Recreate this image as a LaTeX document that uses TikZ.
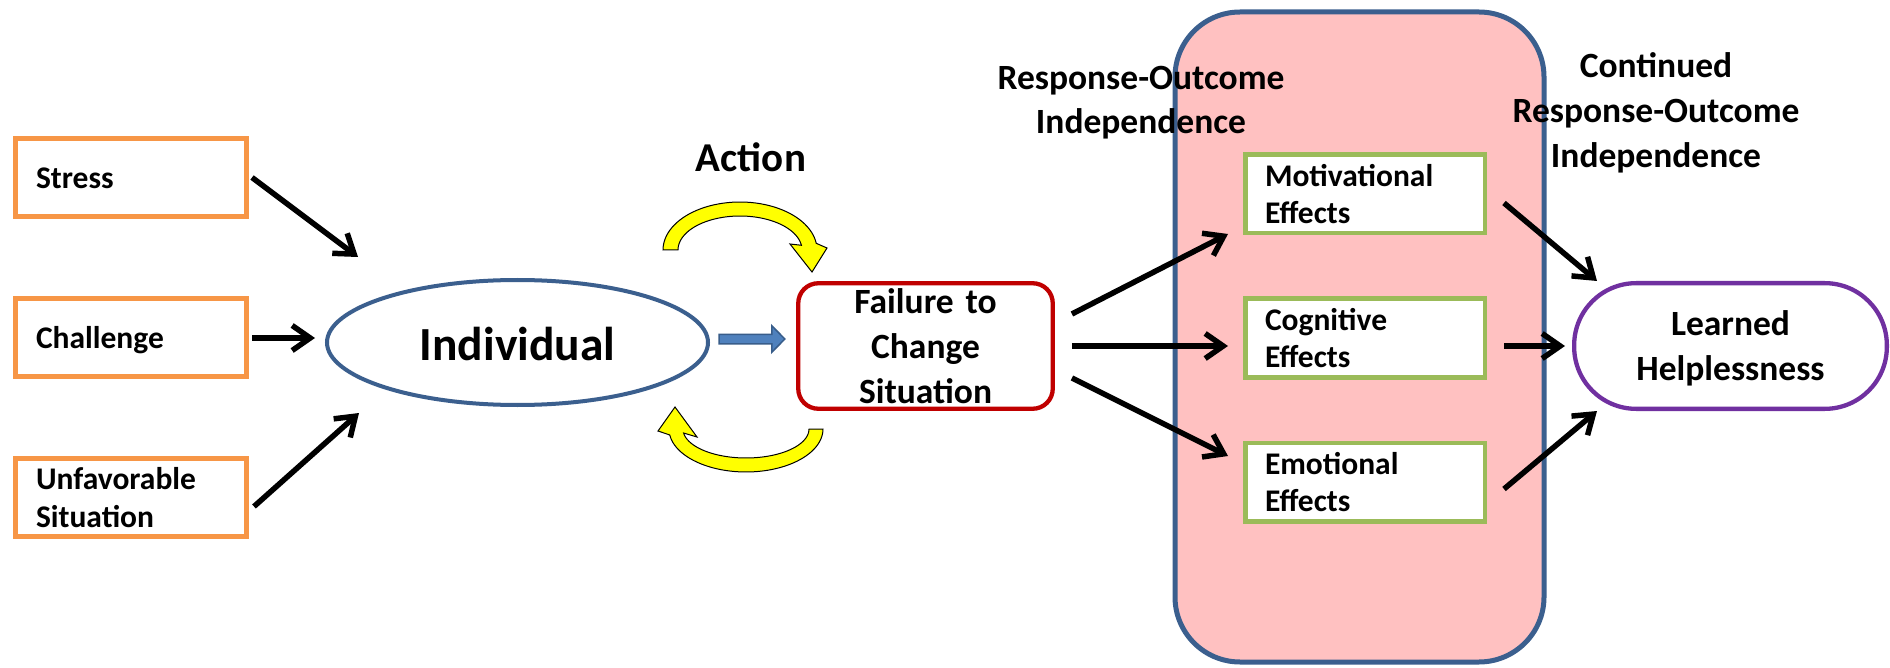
\documentclass[tikz,border=0pt]{standalone}
\usepackage{fontspec}
\setmainfont{Carlito}
\usetikzlibrary{arrows.meta,calc,shapes.geometric}
\definecolor{orangeC}{HTML}{F79646}
\definecolor{greenC}{HTML}{9BBB59}
\definecolor{redC}{HTML}{C00000}
\definecolor{purpleC}{HTML}{7030A0}
\definecolor{blueC}{HTML}{3B5F8E}
\definecolor{blueFill}{HTML}{4F81BD}
\definecolor{blueLine}{HTML}{385D8A}
\definecolor{pinkC}{HTML}{FFC1C1}
\definecolor{yellowC}{HTML}{FFFF00}
\newcommand\stA{\rule{0pt}{22pt}}
\newcommand\stB{\rule{0pt}{24.5pt}}
\newcommand\stC{\rule{0pt}{36pt}}
\tikzset{
  smallfont/.style={font=\fontsize{31.5}{37.5}\selectfont\bfseries},
  bigfont/.style={font=\fontsize{35.5}{45}\selectfont\bfseries},
  inbox/.style={draw=orangeC, line width=5pt, minimum width=231pt, minimum height=78pt,
    inner xsep=20.5pt, inner ysep=0pt, text width=190pt, align=left, smallfont},
  effbox/.style={draw=greenC, fill=white, line width=4.5pt, minimum width=239.5pt, minimum height=78.5pt,
    inner xsep=19.75pt, inner ysep=0pt, text width=200pt, align=left, smallfont},
  conn/.style={line width=5.5pt, -{Straight Barb[length=18pt,width=25pt]}},
  yarrow/.style={fill=yellowC, draw=black, line width=1pt, line join=miter},
  label/.style={inner sep=0pt, align=center, bigfont},
}
\begin{document}
\begin{tikzpicture}[x=1pt, y=-1pt]
\fill[white] (0,0) rectangle (1890,668);
\useasboundingbox (0,0) rectangle (1890,668);

% panel
\node[draw=blueC, fill=pinkC, line width=5pt, rounded corners=65pt,
  minimum width=369pt, minimum height=650pt, inner sep=0pt] (panel) at (1359.5,337) {};

% input boxes
\node[inbox] (stress) at (131,177.5) {\stA\smash{Stress}};
\node[inbox] (chal) at (131,337.5) {\stA\smash{Challenge}};
\node[inbox] (unf) at (131,497.5) {\stA\smash{Unfavorable}\\\smash{Situation}};

% individual
\node[ellipse, draw=blueC, line width=4pt, minimum width=381pt, minimum height=125pt,
  inner sep=0pt, font=\fontsize{47.5}{57}\selectfont\bfseries] (ind) at (517.5,342.5) {\stC\smash{Individual}};

% action label
\node[anchor=base, inner sep=0pt, font=\fontsize{41}{49}\selectfont\bfseries] (action) at (751,172) {Action};

% failure box
\node[draw=redC, line width=4.3pt, rounded corners=20pt, minimum width=254.5pt, minimum height=125.5pt,
  inner sep=0pt, text width=254.5pt, align=center, bigfont] (fail) at (925.5,346)
  {\stB\smash{Failure to}\\\smash{Change}\\\smash{Situation}};

% labels
\node[label, text width=330pt, font=\fontsize{35.5}{44}\selectfont\bfseries] (roi) at (1141,99.5)
  {\stB\smash{Response-Outcome}\\\smash{Independence}};
\node[label, text width=330pt] (croi) at (1656,110.75)
  {\stB\smash{Continued}\\\smash{Response-Outcome}\\\smash{Independence}};

% effects
\node[effbox] (mot) at (1365,194) {\stA\smash{Motivational}\\\smash{Effects}};
\node[effbox] (cog) at (1365,338) {\stA\smash{Cognitive}\\\smash{Effects}};
\node[effbox] (emo) at (1365,482) {\stA\smash{Emotional}\\\smash{Effects}};

% learned helplessness
\node[draw=purpleC, fill=white, line width=4.3pt, rounded corners=62pt, minimum width=312.7pt, minimum height=125.7pt,
  inner sep=0pt, text width=312.7pt, align=center, bigfont] (lh) at (1730.5,346)
  {\stB\smash{Learned}\\\smash{Helplessness}};

% arrow end coordinates
\coordinate (e1) at (358,257);
\coordinate (e2) at (315,338);
\coordinate (e3) at (359,413);
\coordinate (f1) at (1228,234);
\coordinate (f2) at (1228,346);
\coordinate (f3) at (1228,456);
\coordinate (g1) at (1597,281);
\coordinate (g2) at (1565,346);
\coordinate (g3) at (1597,411);

% input arrows
\draw[conn] ($(stress.east)+(3,0)$) -- (e1);
\draw[conn] ($(chal.east)+(3,0.5)$) -- (e2);
\draw[conn] ($(unf.east)+(5,9)$) -- (e3);

% failure -> effects
\draw[conn] ($(fail.east)+(17,-32)$) -- (f1);
\draw[conn] ($(fail.east)+(17,0)$) -- (f2);
\draw[conn] ($(fail.east)+(17,32)$) -- (f3);

% effects -> LH
\draw[conn] ($(mot.east)+(17,9)$) -- (g1);
\draw[conn] ($(cog.east)+(17,8)$) -- (g2);
\draw[conn] ($(emo.east)+(17,7)$) -- (g3);

% blue block arrow
\coordinate (ba) at ($(ind.east)+(9,-3.5)$);
\coordinate (bb) at ($(fail.west)+(-11.25,-7)$);
\filldraw[fill=blueFill, draw=blueLine, line width=1.5pt, line join=miter]
  ($(ba)+(0,-4.75)$) -- ($(bb)+(-13,-4.75)$) -- ($(bb)+(-13,-13.25)$) -- (bb)
  -- ($(bb)+(-13,13.25)$) -- ($(bb)+(-13,4.75)$) -- ($(ba)+(0,4.75)$) -- cycle;

% yellow curved arrows
\filldraw[yarrow] (663,250)
  -- plot[domain=180:352, samples=50] ({740+77*cos(\x)},{250+48*sin(\x)})
  -- (827,248) -- (812,272) -- (790,244)
  -- plot[domain=352:180, samples=50] ({740+62*cos(\x)},{250+34*sin(\x)})
  -- cycle;
\filldraw[yarrow] (823,429)
  -- plot[domain=0:172, samples=50] ({746+77*cos(\x)},{429+43*sin(\x)})
  -- (658,431) -- (675,407) -- (697,437)
  -- plot[domain=172:0, samples=50] ({746+63*cos(\x)},{429+29*sin(\x)})
  -- cycle;
\end{tikzpicture}
\end{document}
